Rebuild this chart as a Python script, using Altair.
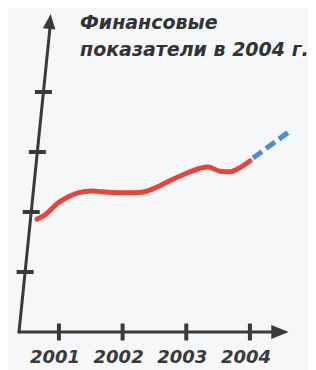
import altair as alt
import pandas as pd

# ---- data ----
years = [2000.655, 2000.78, 2000.985, 2001.14, 2001.30, 2001.52, 2001.77, 2002.04, 2002.30,
         2002.51, 2002.70, 2002.95, 2003.22, 2003.34, 2003.53, 2003.69, 2003.81, 2004.0]
values = [1.88, 1.95, 2.15, 2.25, 2.32, 2.35, 2.33, 2.32, 2.33,
          2.40, 2.50, 2.62, 2.73, 2.75, 2.68, 2.67, 2.72, 2.85]
forecast_years = [2004.05, 2004.63]
forecast_values = [2.90, 3.35]

tick_years = [2001, 2002, 2003, 2004]
tick_labels = ["2001", "2002", "2003", "2004"]
y_ticks = [1, 2, 3, 4]
title_text = ["Финансовые", "показатели в 2004 г."]

# hand-drawn axes (in data units)
axis_origin = [2000.373, 0.0]
y_axis_top = [2000.86, 5.08]
x_axis_end = 2004.42
x_arrow = [2004.472, 0.0]
y_arrow = [2000.858, 5.175]

# ---- styling ----
AX = "#3a3a3a"
xs = alt.Scale(domain=[2000.2, 2004.912], nice=False, zero=False)
ys = alt.Scale(domain=[-0.6333, 5.4], nice=False, zero=False)

def X(f):
    return alt.X(f, type="quantitative", scale=xs, axis=None)

def Y(f):
    return alt.Y(f, type="quantitative", scale=ys, axis=None)

actual = pd.DataFrame({"year": years, "value": values})
forecast = pd.DataFrame({"year": forecast_years, "value": forecast_values})

slope = (y_axis_top[0] - axis_origin[0]) / y_axis_top[1]
yt = pd.DataFrame({"v": y_ticks, "x": [axis_origin[0] + v * slope for v in y_ticks]})
xt = pd.DataFrame({"year": tick_years, "label": tick_labels, "v": [0] * 4})

axes_df = pd.DataFrame({
    "x": [axis_origin[0], axis_origin[0]],
    "y": [axis_origin[1], axis_origin[1]],
    "x2": [y_axis_top[0], x_axis_end],
    "y2": [y_axis_top[1], axis_origin[1]],
})
axes = alt.Chart(axes_df).mark_rule(color=AX, strokeWidth=3, strokeCap="round").encode(
    x=X("x"), y=Y("y"), x2="x2", y2="y2")

xarrow = alt.Chart(pd.DataFrame({"x": [x_arrow[0]], "y": [x_arrow[1]]})).mark_point(
    shape="M-1,-0.8L1,0L-1,0.8Z", size=300, filled=True, color=AX, opacity=1, strokeWidth=0
).encode(x=X("x"), y=Y("y"))

yarrow = alt.Chart(pd.DataFrame({"x": [y_arrow[0]], "y": [y_arrow[1]]})).mark_point(
    shape="M0,-1L0.85,1L-0.85,1Z", size=220, filled=True, color=AX, opacity=1, angle=6, strokeWidth=0
).encode(x=X("x"), y=Y("y"))

yticks = alt.Chart(yt).mark_tick(orient="horizontal", size=17, thickness=4, color=AX, opacity=1).encode(
    x=X("x"), y=Y("v"))

xticks = alt.Chart(xt).mark_tick(orient="vertical", size=17, thickness=4, color=AX, opacity=1).encode(
    x=X("year"), y=Y("v"))

xlabels = alt.Chart(xt).mark_text(
    font="DejaVu Sans", fontSize=18, fontWeight="bold", fontStyle="italic",
    color=AX, baseline="middle", align="center", dy=26, dx=-4
).encode(x=X("year"), y=Y("v"), text="label:N")

line = alt.Chart(actual).mark_line(
    color="#e8443a", strokeWidth=5, interpolate="monotone", strokeCap="round"
).encode(x=X("year"), y=Y("value"))

dashed = alt.Chart(forecast).mark_line(
    color="#4a8ed8", strokeWidth=5, strokeDash=[11, 5]
).encode(x=X("year"), y=Y("value"))

title = alt.Chart(pd.DataFrame({"t": ["\n".join(title_text)]})).mark_text(
    font="DejaVu Sans", fontSize=19, fontWeight="bold", fontStyle="italic",
    color="#333333", align="left", baseline="middle", lineBreak="\n", lineHeight=27
).encode(x=alt.value(72), y=alt.value(15), text="t:N")

chart = alt.layer(axes, yticks, xticks, xarrow, yarrow, line, dashed, xlabels, title).properties(
    width=300, height=362, padding=0,
    autosize=alt.AutoSizeParams(type="none"),
    background="#f5f7f8",
).configure_view(stroke=None)

chart.save("out.html", embed_options={"renderer": "svg", "actions": False})
